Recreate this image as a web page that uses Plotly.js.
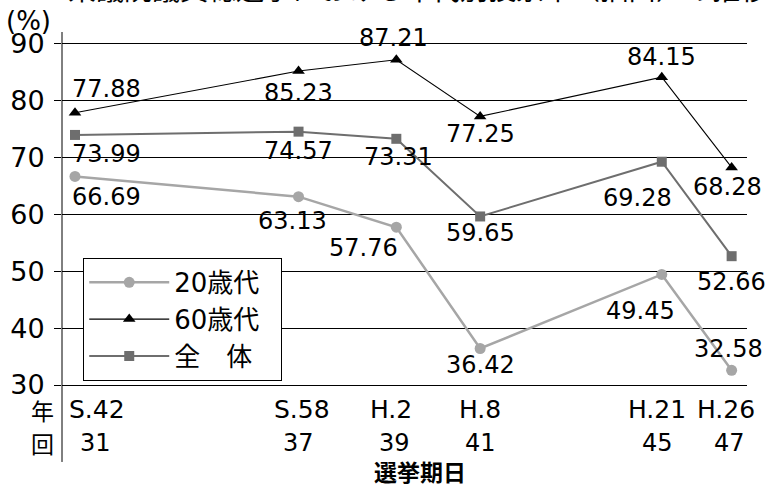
<!DOCTYPE html>
<html>
<head>
<meta charset="utf-8">
<script src="https://cdn.plot.ly/plotly-3.0.1.min.js"></script>
<style>html,body{margin:0;padding:0;background:#fff;}#chart{width:770px;height:487px;}</style>
</head>
<body>
<div id="chart"></div>
<script>
// ---- data ----
const years = [1967, 1983, 1990, 1996, 2009, 2014];
const eraLabels = ['S.42', 'S.58', 'H.2', 'H.8', 'H.21', 'H.26'];
const roundLabels = ['31', '37', '39', '41', '45', '47'];
const age20 = [66.69, 63.13, 57.76, 36.42, 49.45, 32.58];
const age60 = [77.88, 85.23, 87.21, 77.25, 84.15, 68.28];
const total = [73.99, 74.57, 73.31, 59.65, 69.28, 52.66];
const seriesNames = ['20歳代', '60歳代', '全\u3000体'];
const yTicks = [30, 40, 50, 60, 70, 80, 90];
const titleText = '衆議院議員総選挙における年代別投票率（抽出）の推移';

// ---- styles ----
const FONT = '"DejaVu Sans", "Noto Sans CJK JP", sans-serif';
const CJK = '"Noto Sans CJK JP", sans-serif';
const shift20 = [[32, -21], [-6, -24], [-33, -21], [0, -16], [-21, -37], [-3, 21]];
const shift60 = [[32, 24], [0, -22], [-3, 22], [0, -18], [0, 20], [-4, -20]];
const shiftTot = [[32, -19], [0, -19], [2, -18], [0, -17], [-24, -36], [0, -26]];
const eraShift = [22, 3, -5, 0, -5, -6];
const roundShift = [21, 0, -2, 0, -4, -2];
const legendPad = '\u00a0\u00a0';

const traces = [
  {x: years, y: age20, name: seriesNames[0] + legendPad, type: 'scatter', mode: 'lines+markers',
   line: {color: '#a6a6a6', width: 2.5}, marker: {symbol: 'circle', size: 11, color: '#a6a6a6'}},
  {x: years, y: age60, name: seriesNames[1] + legendPad, type: 'scatter', mode: 'lines+markers',
   line: {color: '#000000', width: 1.1}, marker: {symbol: 'triangle-up', size: 11, color: '#000000'}},
  {x: years, y: total, name: seriesNames[2] + legendPad, type: 'scatter', mode: 'lines+markers',
   line: {color: '#6e6e6e', width: 2}, marker: {symbol: 'square', size: 10, color: '#6e6e6e'}}
];

const annotations = [];
function addLabels(vals, shifts) {
  vals.forEach((v, i) => {
    annotations.push({x: years[i], y: v, xref: 'x', yref: 'y', text: v.toFixed(2),
      showarrow: false, xanchor: 'center', yanchor: 'middle',
      xshift: shifts[i][0], yshift: shifts[i][1],
      font: {family: FONT, size: 24, color: '#000'}});
  });
}
addLabels(age20, shift20);
addLabels(age60, shift60);
addLabels(total, shiftTot);

// category labels under the axis (two rows: era / election round)
years.forEach((yr, i) => {
  annotations.push({x: yr, xref: 'x', yref: 'paper', y: -0.068, text: eraLabels[i],
    showarrow: false, xanchor: 'center', yanchor: 'middle', xshift: eraShift[i],
    font: {family: FONT, size: 25, color: '#000'}});
  annotations.push({x: yr, xref: 'x', yref: 'paper', y: -0.165, text: roundLabels[i],
    showarrow: false, xanchor: 'center', yanchor: 'middle', xshift: roundShift[i],
    font: {family: FONT, size: 24, color: '#000'}});
});

annotations.push(
  {xref: 'paper', yref: 'paper', x: -0.049, y: 1.03, text: '(%)', showarrow: false,
   xanchor: 'center', yanchor: 'middle', font: {family: FONT, size: 26, color: '#000'}},
  {xref: 'paper', yref: 'paper', x: -0.029, y: -0.07, text: '年', showarrow: false,
   xanchor: 'center', yanchor: 'middle', font: {family: CJK, size: 23, color: '#000'}},
  {xref: 'paper', yref: 'paper', x: -0.029, y: -0.165, text: '回', showarrow: false,
   xanchor: 'center', yanchor: 'middle', font: {family: CJK, size: 23, color: '#000'}},
  {xref: 'paper', yref: 'paper', x: 0.523, y: -0.245, text: '<b>選挙期日</b>', showarrow: false,
   xanchor: 'center', yanchor: 'middle', font: {family: CJK, size: 23, color: '#000'}},
  {xref: 'paper', yref: 'paper', x: 0.52, y: 1.125, text: titleText, showarrow: false,
   xanchor: 'center', yanchor: 'middle', font: {family: CJK, size: 28, color: '#000'}}
);

const layout = {
  width: 770, height: 487,
  margin: {l: 62, r: 23, t: 32, b: 102},
  paper_bgcolor: '#fff', plot_bgcolor: '#fff',
  showlegend: true,
  legend: {x: 0.031, y: 0.36, xanchor: 'left', yanchor: 'top',
    bgcolor: '#fff', bordercolor: '#000', borderwidth: 1, itemwidth: 80,
    font: {family: FONT, size: 26, color: '#000'}},
  xaxis: {range: [1966.07, 2015.1], showgrid: false, zeroline: false, showline: true,
    linecolor: '#000', linewidth: 1, ticks: '', tickvals: years, showticklabels: false,
    fixedrange: true},
  yaxis: {range: [30, 92.1], tickvals: yTicks, showgrid: true,
    gridcolor: '#000', gridwidth: 1, zeroline: false, showline: false,
    ticks: 'outside', ticklen: 7, tickcolor: '#000', tickwidth: 1, ticklabelstandoff: 4,
    tickfont: {family: FONT, size: 27, color: '#000'}, fixedrange: true},
  shapes: [
    {type: 'line', xref: 'paper', yref: 'paper', x0: 0, x1: 0, y0: -0.218, y1: 1,
     line: {color: '#000', width: 1}}
  ],
  annotations: annotations
};

Plotly.newPlot('chart', traces, layout, {displayModeBar: false, staticPlot: true});
</script>
</body>
</html>
